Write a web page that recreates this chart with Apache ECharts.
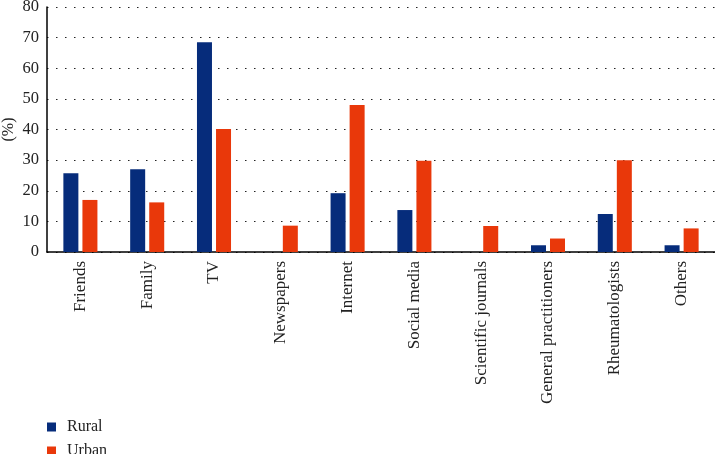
<!DOCTYPE html>
<html>
<head>
<meta charset="utf-8">
<script src="https://cdn.jsdelivr.net/npm/echarts@6/dist/echarts.min.js"></script>
<style>
html, body { margin: 0; padding: 0; background: #fff; }
#main { width: 715px; height: 454px; }
</style>
</head>
<body>
<div id="main"></div>
<script>
var categories = ['Friends', 'Family', 'TV', 'Newspapers', 'Internet', 'Social media',
    'Scientific journals', 'General practitioners', 'Rheumatologists', 'Others'];
var rural = [25.7, 27.0, 68.5, 0, 19.2, 13.7, 0, 2.2, 12.4, 2.2];
var urban = [17.0, 16.2, 40.2, 8.6, 48.0, 29.8, 8.5, 4.4, 30.0, 7.7];
var yTicks = [0, 10, 20, 30, 40, 50, 60, 70, 80];

var font = 'Liberation Serif';
var chart = echarts.init(document.getElementById('main'));
var option = {
    animation: false,
    textStyle: { fontFamily: font },
    legend: {
        orient: 'vertical',
        left: 42,
        top: 414,
        height: 80,
        itemWidth: 9,
        itemHeight: 9,
        itemGap: 8,
        icon: 'rect',
        textStyle: { fontFamily: font, fontSize: 16, color: '#222', padding: [0, 0, 0, 6] },
        data: ['Rural', 'Urban']
    },
    grid: { left: 47, right: 0, top: 7, bottom: 202, outerBoundsMode: 'none' },
    xAxis: {
        type: 'category',
        data: categories,
        axisLine: { lineStyle: { color: '#000', width: 1.5 } },
        axisTick: { show: false },
        axisLabel: {
            rotate: 90,
            interval: 0,
            margin: 9,
            fontFamily: font,
            fontSize: 17,
            color: '#222'
        }
    },
    yAxis: {
        type: 'value',
        min: yTicks[0],
        max: yTicks[yTicks.length - 1],
        interval: 10,
        name: '(%)',
        nameLocation: 'middle',
        nameGap: 30,
        nameMoveOverlap: false,
        nameTextStyle: { fontFamily: font, fontSize: 16, color: '#222' },
        axisLine: { show: true, lineStyle: { color: '#000', width: 1.5 } },
        axisTick: { show: false },
        axisLabel: { fontFamily: font, fontSize: 16.5, color: '#222', margin: 8 },
        splitLine: { lineStyle: { color: '#222', type: [1.5, 7.5], width: 1.2 } }
    },
    series: [
        {
            name: 'Rural',
            type: 'bar',
            data: rural,
            barWidth: 15,
            barGap: '27%',
            itemStyle: { color: '#062c7b' }
        },
        {
            name: 'Urban',
            type: 'bar',
            data: urban,
            barWidth: 15,
            itemStyle: { color: '#e9380a' }
        }
    ]
};
chart.setOption(option);
</script>
</body>
</html>
